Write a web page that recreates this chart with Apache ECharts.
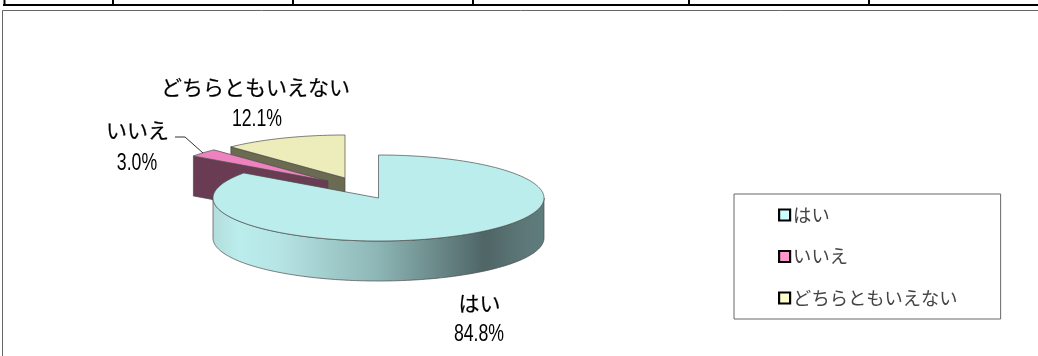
<!DOCTYPE html>
<html>
<head>
<meta charset="utf-8">
<style>html,body{margin:0;padding:0;background:#fff}#c{width:1038px;height:356px}</style>
<script src="https://cdn.jsdelivr.net/npm/echarts@6/dist/echarts.min.js"></script>
</head>
<body>
<div id="c"></div>
<script>
var categories = ['はい', 'いいえ', 'どちらともいえない'];
var values = [84.8, 3.0, 12.1];

var topColors = ['#BBEDED', '#EE82BE', '#EDEDBB'];
var wallColors = [null, '#6A3C54', '#6B6B52'];
var legendColors = ['#CCFFFF', '#FF99CC', '#FFFFCC'];
var sliceShift = [[0, 0], [-50.5, -17], [-33.5, -20]];
var namePos = [[479.5, 303], [137.5, 130], [255.5, 87]];
var pctPos = [[479, 335], [137, 164], [257, 120]];

var CX = 378.5, CY = 198, RX = 165.5, RY = 43, DEPTH = 40;
var LINE = '#4a4a4a';
var JP = '"Noto Sans CJK JP","Noto Sans CJK SC",sans-serif';
var NUM = '"Liberation Sans",sans-serif';

var total = values.reduce(function (a, b) { return a + b; }, 0);

function pt(deg, dx, dy) {
  var r = deg * Math.PI / 180;
  return [CX + dx + RX * Math.sin(r), CY + dy - RY * Math.cos(r)];
}
function arc(a, b, dx, dy) {
  var out = [], n = Math.max(2, Math.ceil(Math.abs(b - a)));
  for (var i = 0; i <= n; i++) out.push(pt(a + (b - a) * i / n, dx, dy));
  return out;
}
function poly(points, fill) {
  return { type: 'polygon', shape: { points: points }, style: { fill: fill, stroke: LINE, lineWidth: 0.7 } };
}
function nameLabel(text, pos) {
  return {
    type: 'text', z2: 50,
    style: { text: text, x: pos[0], y: pos[1], align: 'center', verticalAlign: 'middle', fill: '#000', stroke: '#000', lineWidth: 0.2, font: '21px ' + JP }
  };
}
function pctLabel(text, pos) {
  return {
    type: 'text', z2: 50, x: pos[0], y: pos[1], scaleX: 0.77,
    style: { text: text, x: 0, y: 0, align: 'center', verticalAlign: 'middle', fill: '#000', font: '23px ' + NUM }
  };
}

function makeRender(idx) {
  return function (params, api) {
    var before = 0;
    for (var i = 0; i < idx; i++) before += values[i];
    var start = before / total * 360;
    var end = (before + api.value(0)) / total * 360;
    var dx = sliceShift[idx][0], dy = sliceShift[idx][1];
    var children = [];
    var apex = [CX + dx, CY + dy];

    if (idx === 0) {
      var wallTop = arc(90, 270, dx, dy);
      var wallBottom = arc(270, 90, dx, dy + DEPTH);
      children.push(poly(wallTop.concat(wallBottom), new echarts.graphic.LinearGradient(0, 0, 1, 0, [
        { offset: 0, color: '#B4DCDC' },
        { offset: 0.08, color: '#BBEDED' },
        { offset: 0.2, color: '#B6E4E4' },
        { offset: 0.5, color: '#8DB5B5' },
        { offset: 0.82, color: '#4F6566' },
        { offset: 0.93, color: '#5C7676' },
        { offset: 1, color: '#5F7D7D' }
      ])));
    } else {
      var p = pt(start, dx, dy);
      children.push(poly([p, apex, [apex[0], apex[1] + DEPTH], [p[0], p[1] + DEPTH]], wallColors[idx]));
    }
    children.push(poly([apex].concat(arc(start, end, dx, dy)), topColors[idx]));
    children.push(nameLabel(categories[idx], namePos[idx]));
    children.push(pctLabel(api.value(0).toFixed(1) + '%', pctPos[idx]));
    return { type: 'group', children: children };
  };
}

var series = categories.map(function (name, i) {
  return {
    type: 'custom', name: name, coordinateSystem: 'none', silent: true,
    z: 6 - i,
    data: [[values[i]]],
    renderItem: makeRender(i)
  };
});

var chart = echarts.init(document.getElementById('c'), null, { renderer: 'canvas' });
chart.setOption({
  animation: false,
  backgroundColor: '#fff',
  legend: {
    orient: 'vertical', left: 734, top: 194,
    padding: [11, 43, 11, 44],
    itemWidth: 11, itemHeight: 11, itemGap: 21.5,
    selectedMode: false,
    borderColor: '#666', borderWidth: 1,
    textStyle: { fontFamily: JP, fontSize: 18.3, lineHeight: 20, color: '#444', padding: [0, 0, 0, -2] },
    data: categories.map(function (n, i) {
      return { name: n, icon: 'rect', itemStyle: { color: legendColors[i], borderColor: '#000', borderWidth: 2.2 } };
    })
  },
  series: series,
  graphic: [
    { type: 'line', silent: true, shape: { x1: 3, y1: 5, x2: 1038, y2: 5 }, style: { stroke: '#000', lineWidth: 2 } },
    { type: 'line', silent: true, shape: { x1: 4.5, y1: 0, x2: 4.5, y2: 5 }, style: { stroke: '#000', lineWidth: 2 } },
    { type: 'line', silent: true, shape: { x1: 113, y1: 0, x2: 113, y2: 5 }, style: { stroke: '#000', lineWidth: 2 } },
    { type: 'line', silent: true, shape: { x1: 293, y1: 0, x2: 293, y2: 5 }, style: { stroke: '#000', lineWidth: 2 } },
    { type: 'line', silent: true, shape: { x1: 473, y1: 0, x2: 473, y2: 5 }, style: { stroke: '#000', lineWidth: 2 } },
    { type: 'line', silent: true, shape: { x1: 689, y1: 0, x2: 689, y2: 5 }, style: { stroke: '#000', lineWidth: 2 } },
    { type: 'line', silent: true, shape: { x1: 869, y1: 0, x2: 869, y2: 5 }, style: { stroke: '#000', lineWidth: 2 } },
    { type: 'polyline', silent: true, shape: { points: [[2.5, 356], [2.5, 10.5], [1038, 10.5]] }, style: { stroke: '#666', lineWidth: 1, fill: 'none' } },
    { type: 'polyline', silent: true, z: 60, shape: { points: [[175, 137], [185, 137], [203, 153]] }, style: { stroke: '#333', lineWidth: 1, fill: 'none' } }
  ]
});
</script>
</body>
</html>
